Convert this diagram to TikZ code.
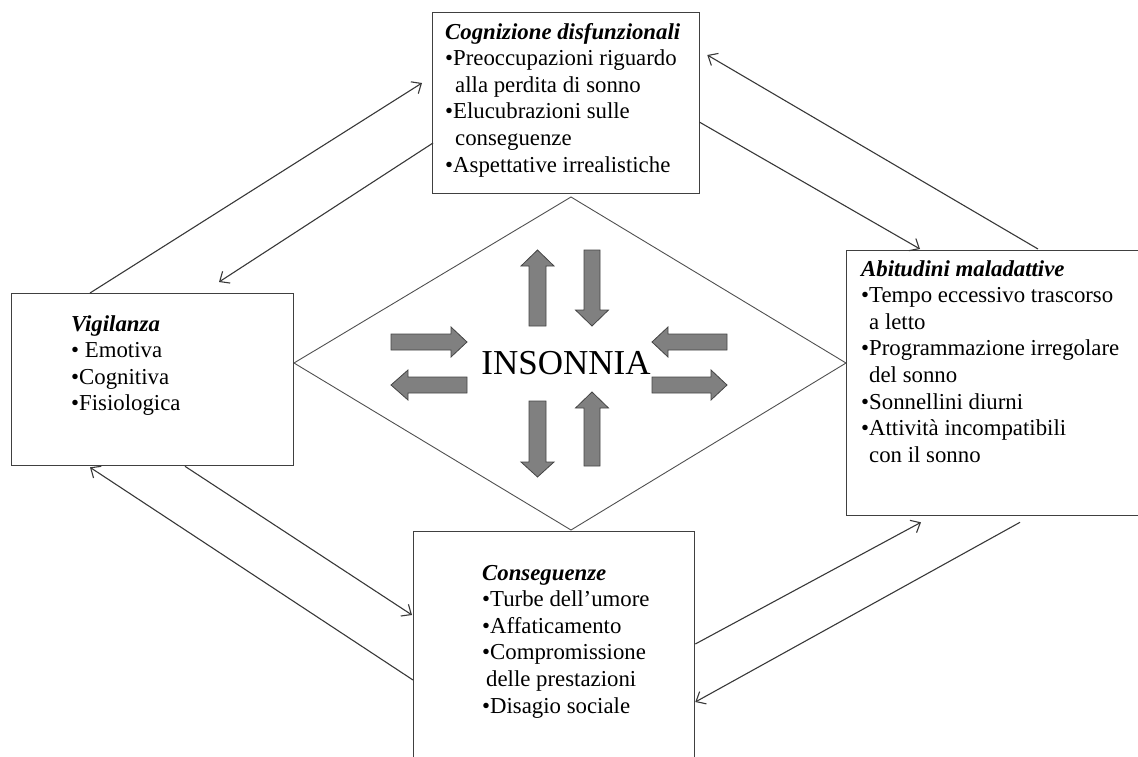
\documentclass[tikz,border=0pt]{standalone}
\usepackage{fontspec}
\setmainfont{Liberation Serif}
\usetikzlibrary{arrows.meta,calc}
\definecolor{boxline}{HTML}{404040}
\definecolor{conn}{HTML}{383838}
\definecolor{diam}{HTML}{505050}
\definecolor{arrfill}{HTML}{808080}
\definecolor{arrline}{HTML}{454545}
\begin{document}
\begin{tikzpicture}[x=1pt,y=-1pt,
  box/.style={draw=boxline, line width=1.3pt, fill=white, rectangle, inner sep=0pt, anchor=north west},
  txt/.style={anchor=base west, inner sep=0pt, font=\fontsize{22.8}{26.6}\selectfont},
  link/.style={draw=conn, line width=1.1pt, -{Straight Barb[length=8pt,width=14pt,line width=1.1pt]}},
  fat/.style={fill=arrfill, draw=arrline, line width=0.8pt, line join=miter}]
\useasboundingbox (0,0) rectangle (1138,756);
\clip (0,0) rectangle (1138,756);
% diamond
\draw[diam, line width=0.9pt] (294,363) -- (571,197) -- (846,363) -- (571,530) -- cycle;
% boxes
\node[box, minimum width=267pt, minimum height=181pt] (cog) at (432,12) {};
\node[box, minimum width=282pt, minimum height=172pt] (vig) at (11,293) {};
\node[box, minimum width=310pt, minimum height=265pt] (abi) at (846,250) {};
\node[box, minimum width=281pt, minimum height=240pt] (con) at (413,531) {};
% texts
\node[txt] (cogt) at (445,39) {\begin{tabular}[t]{@{}l@{}}\textbf{\textit{Cognizione disfunzionali}}\\
•Preoccupazioni riguardo\\
\hspace*{10pt}alla perdita di sonno\\
•Elucubrazioni sulle\\
\hspace*{10pt}conseguenze\\
•Aspettative irrealistiche\end{tabular}};
\node[txt] (vigt) at (71,331) {\begin{tabular}[t]{@{}l@{}}\textbf{\textit{Vigilanza}}\\
• Emotiva\\
•Cognitiva\\
•Fisiologica\end{tabular}};
\node[txt] (abit) at (861,276) {\begin{tabular}[t]{@{}l@{}}\textbf{\textit{Abitudini maladattive}}\\
•Tempo eccessivo trascorso\\
\hspace*{8pt}a letto\\
•Programmazione irregolare\\
\hspace*{8pt}del sonno\\
•Sonnellini diurni\\
•Attività incompatibili\\
\hspace*{8pt}con il sonno\end{tabular}};
\node[txt] (cont) at (482,580) {\begin{tabular}[t]{@{}l@{}}\textbf{\textit{Conseguenze}}\\
•Turbe dell’umore\\
•Affaticamento\\
•Compromissione\\
\hspace*{4pt}delle prestazioni\\
•Disagio sociale\end{tabular}};
\node[anchor=base, inner sep=0pt, font=\fontsize{35}{40}\selectfont] (ins) at (566,374) {INSONNIA};
% block arrows
\draw[fat] (529,326)--(529,266)--(521,266)--(537.5,250)--(554,266)--(546,266)--(546,326)--cycle;
\draw[fat] (584,250)--(584,310)--(575.5,310)--(592,326)--(608.5,310)--(600,310)--(600,250)--cycle;
\draw[fat] (391,334)--(451,334)--(451,327)--(467,342)--(451,357)--(451,350)--(391,350)--cycle;
\draw[fat] (467,377)--(408,377)--(408,370)--(391,385)--(408,400)--(408,393)--(467,393)--cycle;
\draw[fat] (727,334)--(668,334)--(668,327)--(652,342)--(668,357)--(668,350)--(727,350)--cycle;
\draw[fat] (652,377)--(711,377)--(711,370)--(727,385)--(711,400)--(711,393)--(652,393)--cycle;
\draw[fat] (529,401)--(529,462)--(521,462)--(537.5,477)--(554,462)--(546,462)--(546,401)--cycle;
\draw[fat] (584,466)--(584,408)--(575.5,408)--(592,392)--(608.5,408)--(600,408)--(600,466)--cycle;
% connectors
\draw[link] ($(vig.north west)+(79,0)$) -- ($(cog.north west)+(-10,71)$);
\draw[link] ($(cog.north west)+(1,131)$) -- ($(vig.north west)+(208,-11)$);
\draw[link] ($(abi.north west)+(192,-1)$) -- ($(cog.north east)+(7,43)$);
\draw[link] ($(cog.north east)+(-1,110)$) -- ($(abi.north west)+(74,-1)$);
\draw[link] ($(vig.south west)+(174,0)$) -- ($(con.north west)+(-1,84)$);
\draw[link] ($(con.north west)+(0,149)$) -- ($(vig.south west)+(79,1)$);
\draw[link] ($(con.north east)+(0,113)$) -- ($(abi.south west)+(75,6)$);
\draw[link] ($(abi.south west)+(174,6)$) -- ($(con.north east)+(0,171)$);
\end{tikzpicture}
\end{document}
